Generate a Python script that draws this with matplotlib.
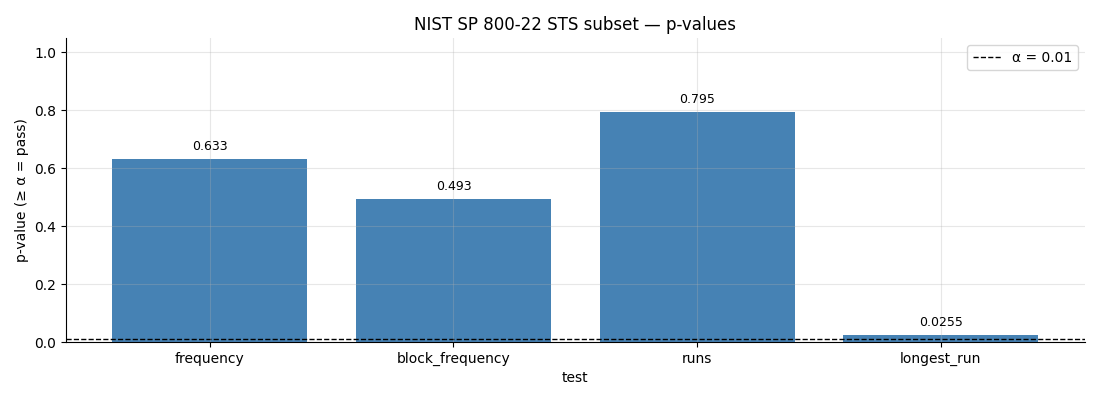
import matplotlib
matplotlib.use("Agg")
import matplotlib.pyplot as plt

tests = ["frequency", "block_frequency", "runs", "longest_run"]
p_values = [0.633, 0.493, 0.795, 0.0255]
value_labels = ["0.633", "0.493", "0.795", "0.0255"]
alpha = 0.01

fig, ax = plt.subplots(figsize=(11, 4), dpi=100)
bars = ax.bar(tests, p_values, color="steelblue", width=0.8)
ax.axhline(alpha, color="black", linestyle="--", linewidth=1, label=f"α = {alpha}")

for bar, lab in zip(bars, value_labels):
    ax.text(bar.get_x() + bar.get_width() / 2, bar.get_height() + 0.02, lab,
            ha="center", va="bottom", fontsize=9)

ax.set_ylim(0, 1.05)
ax.grid(True, alpha=0.3, zorder=3)
ax.set_axisbelow(False)
ax.spines["top"].set_visible(False)
ax.spines["right"].set_visible(False)
ax.set_xlabel("test")
ax.set_ylabel("p-value (≥ α = pass)")
ax.set_title("NIST SP 800-22 STS subset — p-values")
ax.legend(loc="upper right")

fig.subplots_adjust(left=0.06, right=0.986, top=0.905, bottom=0.145)
fig.savefig("out.png")
